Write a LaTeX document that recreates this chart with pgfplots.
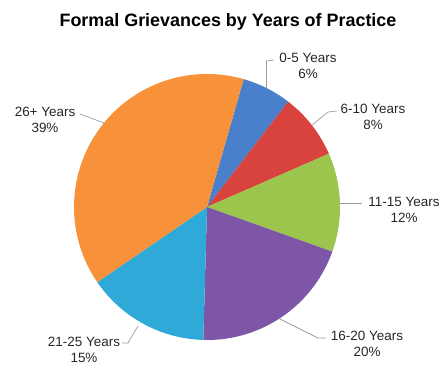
\documentclass[border=0pt]{standalone}
\usepackage{fontspec}
\setmainfont{Liberation Sans}
\usepackage{pgfplots}
\usepackage{pgfplotstable}
\pgfplotsset{compat=1.18}

\definecolor{sliceA}{HTML}{4A7FCB}
\definecolor{sliceB}{HTML}{D9433E}
\definecolor{sliceC}{HTML}{9BC54C}
\definecolor{sliceD}{HTML}{7D56A8}
\definecolor{sliceE}{HTML}{2FAAD8}
\definecolor{sliceF}{HTML}{F7923A}
\definecolor{labelgray}{HTML}{262626}
\definecolor{leadergray}{HTML}{9A9A9A}

\tikzset{
  lbl/.style={font=\fontsize{13.5}{16}\selectfont, text=labelgray, align=center},
  leader/.style={draw=leadergray, line width=0.7pt},
}

% share of grievances by years of practice (percent), clockwise from the top
\pgfplotstableread[col sep=comma]{
label,pct,col
0-5 Years,6,sliceA
6-10 Years,8,sliceB
11-15 Years,12,sliceC
16-20 Years,20,sliceD
21-25 Years,15,sliceE
26+ Years,39,sliceF
}\slices

\begin{document}
\begin{tikzpicture}
\useasboundingbox (0,0) rectangle (442bp,365bp);
\begin{axis}[
  at={(0,0)}, anchor=south west,
  scale only axis, width=442bp, height=365bp,
  xmin=0, xmax=442, ymin=0, ymax=365,
  hide axis, clip=false,
]
% pie slices: centre (207,158), radius 133, first slice starts at 74 degrees
\gdef\cumangle{74}
\pgfplotsinvokeforeach{0,...,5}{
  \pgfplotstablegetelem{#1}{pct}\of\slices \let\pct\pgfplotsretval
  \pgfplotstablegetelem{#1}{col}\of\slices \let\col\pgfplotsretval
  \pgfmathsetmacro\astart{\cumangle}
  \pgfmathsetmacro\aend{\cumangle-3.6*\pct}
  \xdef\cumangle{\aend}
  \edef\doslice{\noexpand\addplot[draw=none, fill=\col, domain=\aend:\astart,
      samples=100, variable=\noexpand\t]
    ({207+133*cos(\noexpand\t)},{158+133*sin(\noexpand\t)}) -- (207,158) -- cycle;}
  \doslice
}

% title
\node[font=\fontsize{18}{20}\selectfont\bfseries, text=black] at (axis cs:228,343)
  {Formal Grievances by Years of Practice};

% leader lines
\draw[leader] (axis cs:266.5,277) -- (axis cs:266.5,304) -- (axis cs:274,305);
\draw[leader] (axis cs:312,240) -- (axis cs:328,253) -- (axis cs:337,254);
\draw[leader] (axis cs:340,162) -- (axis cs:362,162);
\draw[leader] (axis cs:279,46.5) -- (axis cs:318,27) -- (axis cs:326,27);
\draw[leader] (axis cs:122,22) -- (axis cs:128,22) -- (axis cs:138,39);
\draw[leader] (axis cs:80,251) -- (axis cs:104,242);

% slice labels
\node[lbl] at (axis cs:308,299.5) {0-5 Years\\6\%};
\node[lbl] at (axis cs:373,248.5) {6-10 Years\\8\%};
\node[lbl] at (axis cs:404,155.5) {11-15 Years\\12\%};
\node[lbl] at (axis cs:367,21.5) {16-20 Years\\20\%};
\node[lbl] at (axis cs:84,15.5) {21-25 Years\\15\%};
\node[lbl] at (axis cs:45,245.5) {26+ Years\\39\%};
\end{axis}
\end{tikzpicture}
\end{document}
